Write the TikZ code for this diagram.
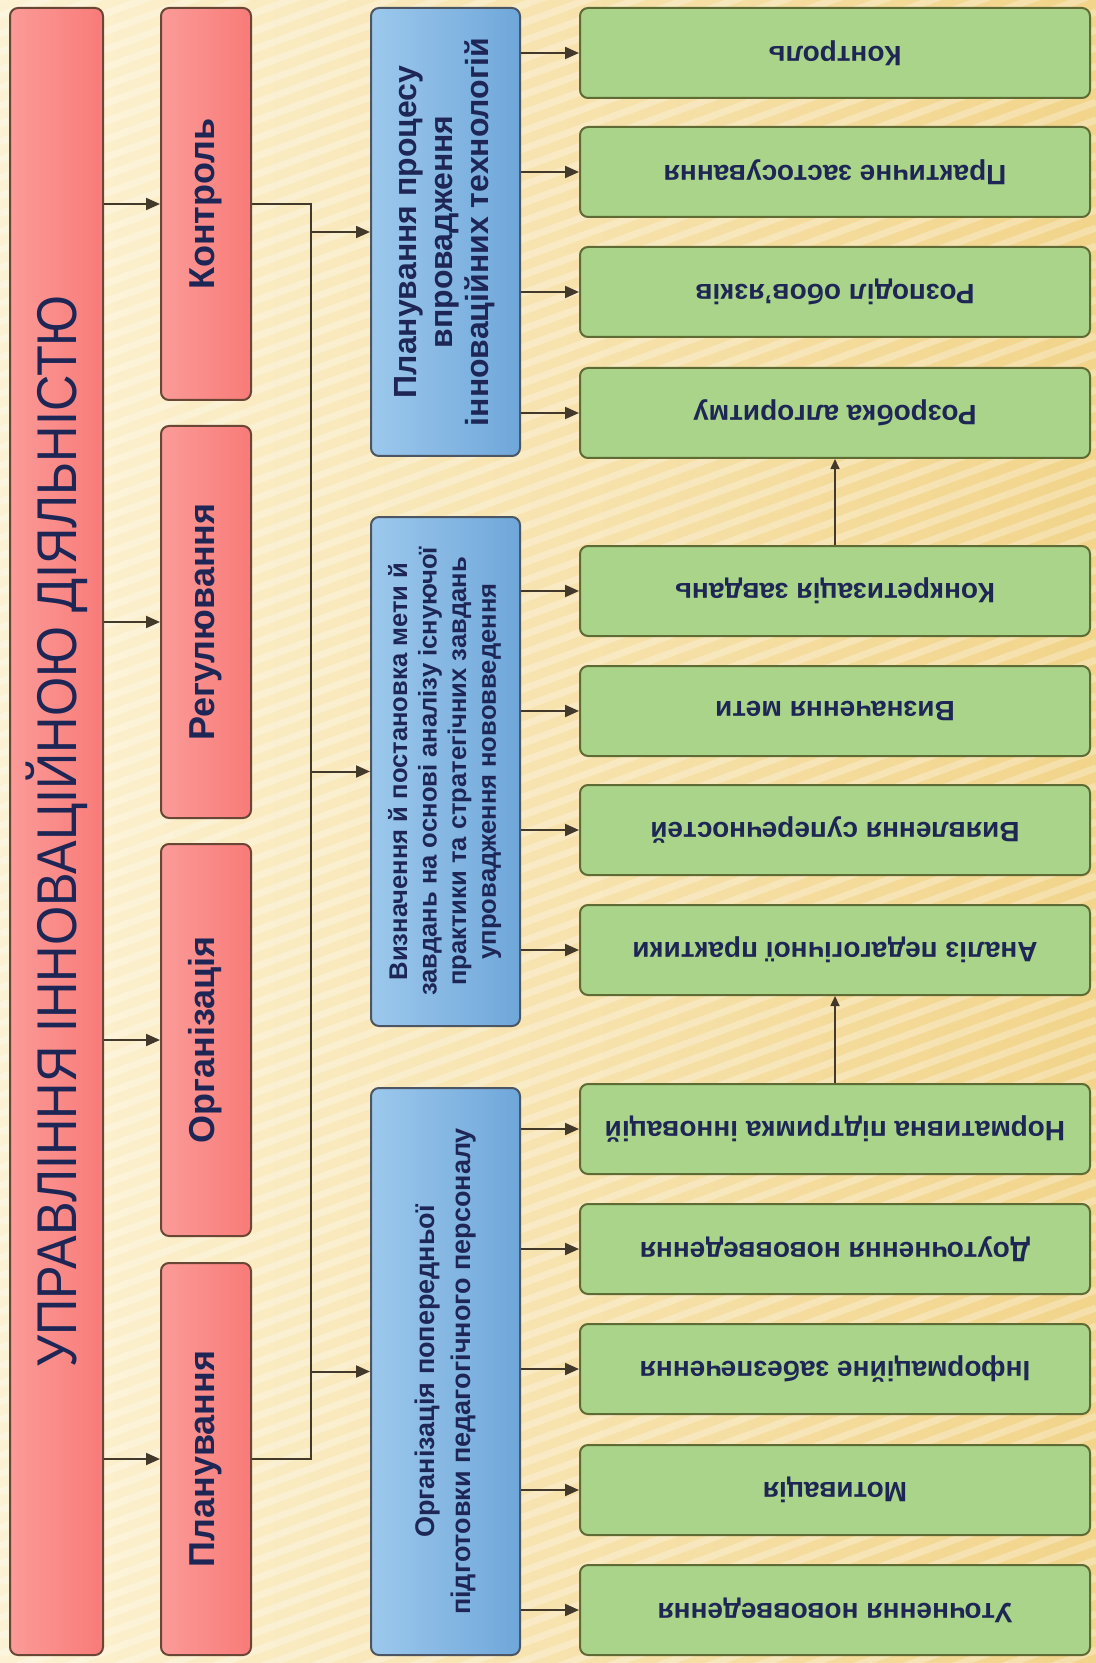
\documentclass[tikz,border=0pt]{standalone}
\usepackage{fontspec}
\setmainfont{Liberation Sans}
\usetikzlibrary{arrows.meta}

\definecolor{bgL}{HTML}{FCF2D3}
\definecolor{bgR}{HTML}{F2D48A}
\definecolor{redL}{HTML}{FB9B98}
\definecolor{redR}{HTML}{F87B78}
\definecolor{redline}{HTML}{6A4636}
\definecolor{blueL}{HTML}{9CC8EC}
\definecolor{blueR}{HTML}{6FA7DA}
\definecolor{blueline}{HTML}{4B5563}
\definecolor{greenF}{HTML}{A9D48A}
\definecolor{greenline}{HTML}{5E6B35}
\definecolor{linecol}{HTML}{43392A}
\definecolor{ink}{HTML}{1E2656}

% text turned to read upwards, and text turned upside down
\newcommand{\vtext}[1]{\rotatebox{90}{\begin{tabular}{@{}c@{}}#1\end{tabular}}}
\newcommand{\utext}[1]{\rotatebox{180}{#1}}

\tikzset{
  base/.style={draw, line width=1pt, rounded corners=4pt, inner sep=0pt, text=ink, align=center},
  headbox/.style={base, draw=redline, left color=redL, right color=redR,
    minimum width=46.5pt, minimum height=823.5pt, font=\fontsize{28}{30}\selectfont},
  funcbox/.style={base, draw=redline, left color=redL, right color=redR,
    minimum width=45pt, minimum height=196pt, font=\bfseries\fontsize{18}{20}\selectfont},
  stagebox/.style={base, draw=blueline, left color=blueL, right color=blueR, minimum width=74.5pt},
  taskbox/.style={base, draw=greenline, fill=greenF, minimum width=255pt, minimum height=45pt,
    font=\bfseries\fontsize{14}{16}\selectfont},
  wire/.style={draw=linecol, line width=1pt},
  arr/.style={wire, -{Triangle[length=7pt,width=6pt]}},
  uparr/.style={draw=linecol, line width=0.8pt, -{Triangle[length=5pt,width=4.5pt]}},
}

\begin{document}
\begin{tikzpicture}[x=0.5pt,y=-0.5pt]
  % Background, drawn first so it goes behind everything
  \useasboundingbox (0,0) rectangle (1096,1663);
  \fill[left color=bgL, right color=bgR] (0,0) rectangle (1096,1663);
  \begin{scope}
    \clip (0,0) rectangle (1096,1663);
    \foreach \s in {-420,-402,...,1680} {
      \draw[white, opacity=0.28, line width=3.5pt] (0,\s+400) -- (1096,\s);
    }
  \end{scope}

  % Main box
  \node[headbox] (head) at (56.5,831.5)
    {\rotatebox{90}{\scalebox{0.9}[1]{УПРАВЛІННЯ ІННОВАЦІЙНОЮ ДІЯЛЬНІСТЮ}}};

  % Functions
  \foreach \yy/\id/\txt in {204/kontrol/Контроль, 622/regul/Регулювання,
                            1040/organ/Організація, 1459/planuv/Планування} {
    \node[funcbox] (\id) at (206,\yy) {\vtext{\txt}};
  }

  % Stages
  \node[stagebox, minimum height=224pt, font=\bfseries\fontsize{16}{18}\selectfont] (plan) at (445.5,232)
    {\vtext{Планування процесу\\впровадження\\інноваційних технологій}};
  \node[stagebox, minimum height=254.5pt, font=\bfseries\fontsize{12.8}{14.8}\selectfont] (goal) at (445.5,771.5)
    {\vtext{Визначення й постановка мети й\\завдань на основі аналізу існуючої\\практики та стратегічних завдань\\упровадження нововведення}};
  \node[stagebox, minimum height=283.5pt, font=\bfseries\fontsize{13.5}{18}\selectfont] (prep) at (445.5,1371.5)
    {\vtext{Організація попередньої\\підготовки педагогічного персоналу}};

  % Tasks
  \foreach \yy/\id/\txt in {53/g1/Контроль, 172/g2/Практичне застосування,
      292/g3/Розподіл обов’язків, 413/g4/Розробка алгоритму,
      591/g5/Конкретизація завдань, 711/g6/Визначення мети,
      830/g7/Виявлення суперечностей, 950/g8/Аналіз педагогічної практики,
      1129/g9/Нормативна підтримка інновацій, 1249/g10/Доуточнення нововведення,
      1369/g11/Інформаційне забезпечення, 1490/g12/Мотивація,
      1610/g13/Уточнення нововведення} {
    \node[taskbox] (\id) at (835,\yy) {\utext{\txt}};
  }

  % Connectors
  \coordinate (bus) at (311,0);
  \foreach \id in {kontrol,regul,organ,planuv} {
    \draw[arr] (\id.west -| head.east) -- (\id.west);
  }
  \draw[wire] (kontrol.east) -- (kontrol.east -| bus) -- (planuv.east -| bus) -- (planuv.east);
  \foreach \id in {plan,goal,prep} {
    \draw[arr] (\id.west -| bus) -- (\id.west);
  }
  \foreach \g/\b in {g1/plan,g2/plan,g3/plan,g4/plan,g5/goal,g6/goal,g7/goal,g8/goal,
                     g9/prep,g10/prep,g11/prep,g12/prep,g13/prep} {
    \draw[arr] (\g.west -| \b.east) -- (\g.west);
  }
  \draw[uparr] (g5.north) -- (g4.south);
  \draw[uparr] (g9.north) -- (g8.south);
\end{tikzpicture}
\end{document}
